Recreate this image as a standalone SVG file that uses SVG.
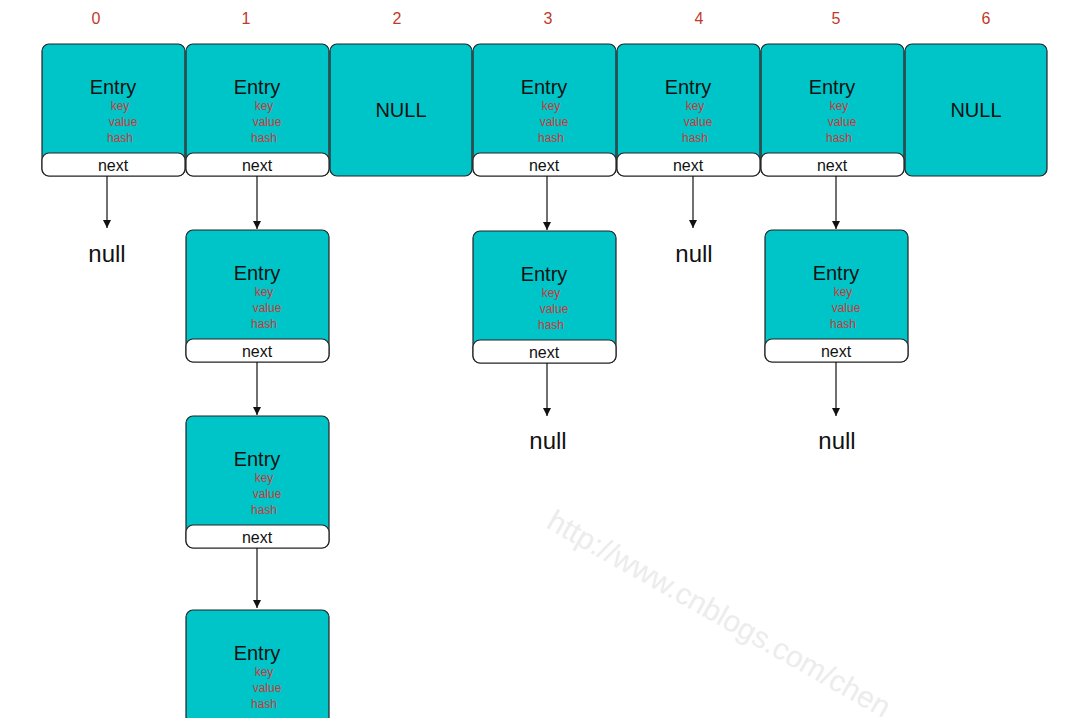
<svg xmlns="http://www.w3.org/2000/svg" width="1080" height="718" viewBox="0 0 1080 718">
<style>
.b{fill:#00c5c8;stroke:#222;stroke-width:1.2}
.n{fill:#fff;stroke:#222;stroke-width:1.2}
.t{font-family:"Liberation Sans",Arial,sans-serif;text-anchor:middle;fill:#111}
.e{font-size:20px}
.f{font-size:12px;fill:#c83a3a}
.nx{font-size:16px}
.nl{font-size:24px}
.idx{font-family:"Liberation Sans",Arial,sans-serif;text-anchor:middle;font-size:16px;fill:#c0392b}
.c line{stroke:#111;stroke-width:1.2;marker-end:url(#a)}
</style>
<defs>
<marker id="a" viewBox="0 0 10 10" refX="10" refY="5" markerWidth="8" markerHeight="8" markerUnits="userSpaceOnUse" orient="auto"><path d="M0,0L10,5L0,10z" fill="#111"/></marker>
<g id="entry">
<rect class="b" x="0" y="0" width="143" height="132" rx="7"/>
<rect class="n" x="0" y="109" width="143" height="23" rx="7"/>
<text class="t e" x="71" y="50">Entry</text>
<text class="t f" x="78" y="66">key</text>
<text class="t f" x="81" y="82">value</text>
<text class="t f" x="78" y="98">hash</text>
<text class="t nx" x="71" y="127">next</text>
</g>
<g id="nul">
<rect class="b" x="0" y="0" width="142" height="132" rx="7"/>
<text class="t e" x="71" y="73">NULL</text>
</g>
</defs>
<g id="indices">
<text class="idx" x="96" y="24">0</text><text class="idx" x="246" y="24">1</text><text class="idx" x="397" y="24">2</text><text class="idx" x="548" y="24">3</text><text class="idx" x="699" y="24">4</text><text class="idx" x="836" y="24">5</text><text class="idx" x="986" y="24">6</text>
</g>
<g id="b0"><use href="#entry" x="42" y="44"/></g>
<g id="b1"><use href="#entry" x="186" y="44"/></g>
<g id="b2"><use href="#nul" x="330" y="44"/></g>
<g id="b3"><use href="#entry" x="473" y="44"/></g>
<g id="b4"><use href="#entry" x="617" y="44"/></g>
<g id="b5"><use href="#entry" x="761" y="44"/></g>
<g id="b6"><use href="#nul" x="905" y="44"/></g>
<g id="c1a"><use href="#entry" x="186" y="230"/></g>
<g id="c1b"><use href="#entry" x="186" y="416"/></g>
<g id="c1c"><use href="#entry" x="186" y="610"/></g>
<g id="c3a"><use href="#entry" x="473" y="231"/></g>
<g id="c5a"><use href="#entry" x="765" y="230"/></g>
<g id="nulls">
<text class="t nl" x="107" y="262">null</text>
<text class="t nl" x="694" y="262">null</text>
<text class="t nl" x="548" y="449">null</text>
<text class="t nl" x="837" y="449">null</text>
</g>
<g class="c" id="connectors">
<line x1="107" y1="176" x2="107" y2="228"/>
<line x1="257" y1="176" x2="257" y2="229"/>
<line x1="257" y1="362" x2="257" y2="415"/>
<line x1="257" y1="548" x2="257" y2="608"/>
<line x1="547" y1="176" x2="547" y2="230"/>
<line x1="547" y1="363" x2="547" y2="416"/>
<line x1="693" y1="176" x2="693" y2="228"/>
<line x1="836" y1="176" x2="836" y2="229"/>
<line x1="836" y1="362" x2="836" y2="416"/>
</g>
<text transform="translate(545,527) rotate(29.5)" font-family="Liberation Sans,Arial,sans-serif" font-size="30" fill="#ececec">http://www.cnblogs.com/chen</text>
</svg>
